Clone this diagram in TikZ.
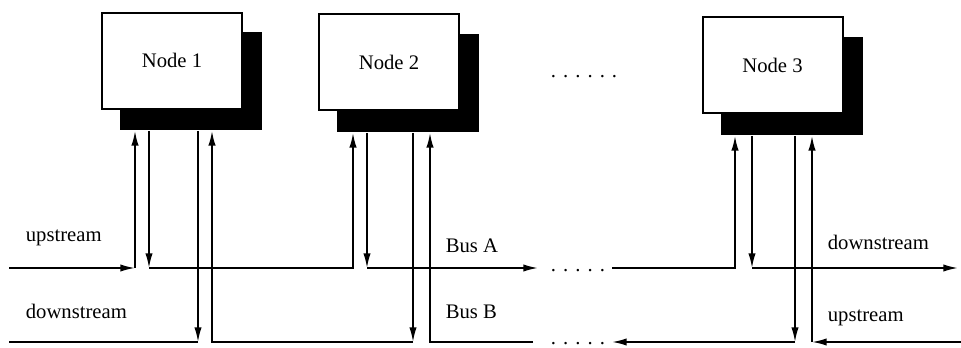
\documentclass[tikz,border=0pt]{standalone}
\usepackage{fontspec}
\setmainfont{Liberation Serif}
\usetikzlibrary{arrows.meta, positioning}

\newcommand{\gapdots}{.\hspace{5.3pt}.\hspace{5.3pt}.\hspace{5.3pt}.\hspace{5.3pt}.}

\begin{document}
\begin{tikzpicture}[x=0.75pt, y=-0.75pt, line width=1.3pt,
    font=\fontsize{15.5}{18}\selectfont,
    nodebox/.style={draw, line width=1.5pt, fill=white, minimum width=105pt, minimum height=72pt, inner sep=0pt},
    shadowbox/.style={fill=black, minimum width=106.5pt, minimum height=73.5pt, inner sep=0pt},
    arr/.style={-{Latex[length=11pt, width=5.5pt]}},
    tag/.style={anchor=west, inner sep=0pt},
    gap/.style={anchor=base, inner sep=0pt}]

\useasboundingbox (0,0) rectangle (961,347);

% Stations (shadow first, box on top)
\node[shadowbox] (s1) at (191,81) {};
\node[nodebox] (n1) at (172,60.5) {Node 1};
\node[shadowbox] (s2) at (408,83) {};
\node[nodebox] (n2) at (389,62) {Node 2};
\node[shadowbox] (s3) at (792,86) {};
\node[nodebox] (n3) at (772.5,65) {Node 3};
\node[gap] (gapTop) at (584,77) {\gapdots\hspace{5.3pt}.};

% Taps on Bus A
\coordinate (aL) at (9,268);
\coordinate (a1in) at (135,268);
\coordinate (a1out) at (149,268);
\coordinate (a2in) at (353,268);
\coordinate (a2out) at (367,268);
\coordinate (aG1) at (538,268);
\coordinate (aG2) at (612,268);
\coordinate (a3in) at (735,268);
\coordinate (a3out) at (752,268);
\coordinate (aR) at (958,268);

% Taps on Bus B
\coordinate (bL) at (9,342);
\coordinate (b1out) at (198,342);
\coordinate (b1in) at (212,342);
\coordinate (b2out) at (413,342);
\coordinate (b2in) at (430,342);
\coordinate (bG1) at (533,342);
\coordinate (bG2) at (612,342);
\coordinate (b3out) at (795,342);
\coordinate (b3in) at (812,342);
\coordinate (bR) at (961,342);

% Bus A
\draw[arr] (aL) -- (a1in);
\draw[arr] (a1in) -- (a1in |- s1.south);
\draw[arr] (a1out |- s1.south) -- (a1out);
\draw[arr] (a1out) -- (a2in) -- (a2in |- s2.south);
\draw[arr] (a2out |- s2.south) -- (a2out);
\draw[arr] (a2out) -- (aG1);
\node[gap] (gapA) at (578,271) {\gapdots};
\draw[arr] (aG2) -- (a3in) -- (a3in |- s3.south);
\draw[arr] (a3out |- s3.south) -- (a3out);
\draw[arr] (a3out) -- (aR);

% Bus B
\draw[arr] (b1out |- s1.south) -- (b1out);
\draw (b1out) -- (bL);
\draw[arr] (b2out |- s2.south) -- (b2out);
\draw[arr] (b2out) -- (b1in) -- (b1in |- s1.south);
\draw[arr] (bG1) -- (b2in) -- (b2in |- s2.south);
\node[gap] (gapB) at (578,344) {\gapdots};
\draw[arr] (b3out |- s3.south) -- (b3out);
\draw[arr] (b3out) -- (bG2);
\draw[arr] (bR) -- (b3in);
\draw[arr] (b3in) -- (b3in |- s3.south);

% Labels
\node[tag] (upL) at (25,238) {upstream};
\node[tag] (downL) at (25,311) {downstream};
\node[tag] (busA) at (445,246) {Bus A};
\node[tag] (busB) at (445,312) {Bus B};
\node[tag] (downR) at (827,242) {downstream};
\node[tag] (upR) at (827,318) {upstream};
\end{tikzpicture}
\end{document}
